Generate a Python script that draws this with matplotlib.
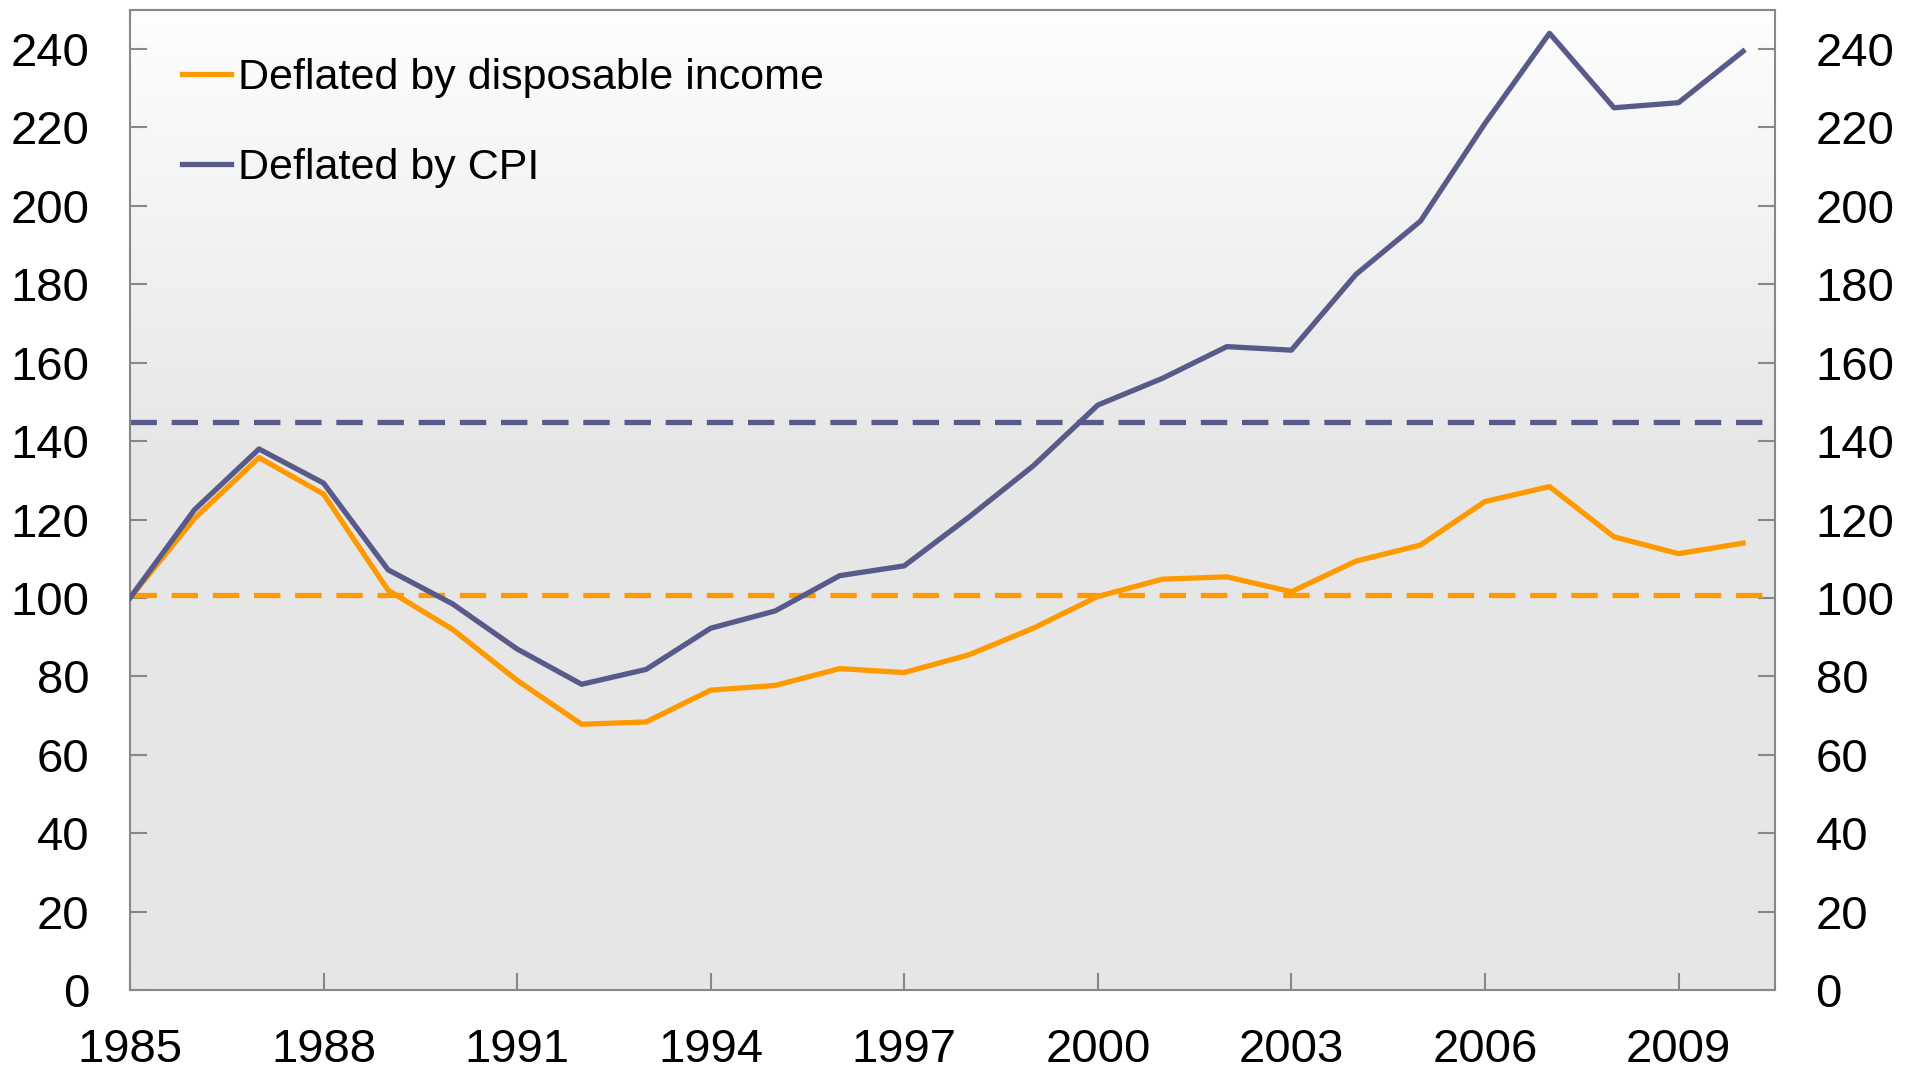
import matplotlib
matplotlib.use("Agg")
import matplotlib.pyplot as plt
import numpy as np

plt.rcParams['font.family'] = ['Liberation Sans', 'DejaVu Sans']

years = list(range(1985, 2011))
disp_income = [100, 120.3, 135.8, 126.5, 102, 92, 79, 67.8, 68.4, 76.5, 77.7, 82, 81,
               85.5, 92.3, 100.4, 104.8, 105.4, 101.6, 109.4, 113.5, 124.6, 128.4,
               115.6, 111.3, 114]
cpi = [100, 122.5, 138, 129.3, 107.2, 98.5, 87, 78, 81.8, 92.3, 96.7, 105.7, 108.2,
       120.6, 133.7, 149.2, 156, 164.1, 163.2, 182.5, 196.1, 221, 244, 225, 226.3, 239.4]
avg_disp = 100.7
avg_cpi = 144.9
labels = ["Deflated by disposable income", "Deflated by CPI"]
xticks = [1985, 1988, 1991, 1994, 1997, 2000, 2003, 2006, 2009]
yticks = list(range(0, 241, 20))

orange = "#FF9900"
purple = "#585A8A"

fig = plt.figure(figsize=(19.11, 10.81), dpi=100)
ax = fig.add_axes([0.068, 0.084, 0.861, 0.907])

xmin, xmax, ymin, ymax = 1985, 2010.5, 0, 250
# background gradient
t = np.linspace(0, 1, 256)  # 0 bottom, 1 top
top_v, bot_v = 0.995, 0.905
vals = np.where(t < 0.55, bot_v, bot_v + (top_v - bot_v) * ((t - 0.55) / 0.45))
img = np.dstack([vals, vals, vals]).reshape(256, 1, 3)
ax.imshow(img, extent=[xmin, xmax, ymin, ymax], origin='lower', aspect='auto', zorder=0)

lw = 3.8
ax.plot(years, disp_income, color=orange, lw=lw, label=labels[0], zorder=3)
ax.plot(years, cpi, color=purple, lw=lw, label=labels[1], zorder=3)
ax.axhline(avg_disp, color=orange, lw=lw, ls=(0, (5, 2.8)), zorder=2)
ax.axhline(avg_cpi, color=purple, lw=lw, ls=(0, (5, 2.8)), zorder=2)

ax.set_xlim(xmin, xmax)
ax.set_ylim(ymin, ymax)
ax.set_xticks(xticks)
ax.set_yticks(yticks)
for s in ax.spines.values():
    s.set_color("#888888")
    s.set_linewidth(1.5)
ax.tick_params(axis='both', direction='in', color="#888888", width=1.5, length=12,
               labelsize=34)
ax.tick_params(axis='y', right=True, labelright=True, pad=29)
ax.tick_params(axis='x', pad=27)

leg = ax.legend(loc='upper left', bbox_to_anchor=(0.008, 0.99), frameon=False,
                fontsize=31, handlelength=1.15, handletextpad=0.15, labelspacing=1.15)

fig.savefig("out.png", dpi=100)
